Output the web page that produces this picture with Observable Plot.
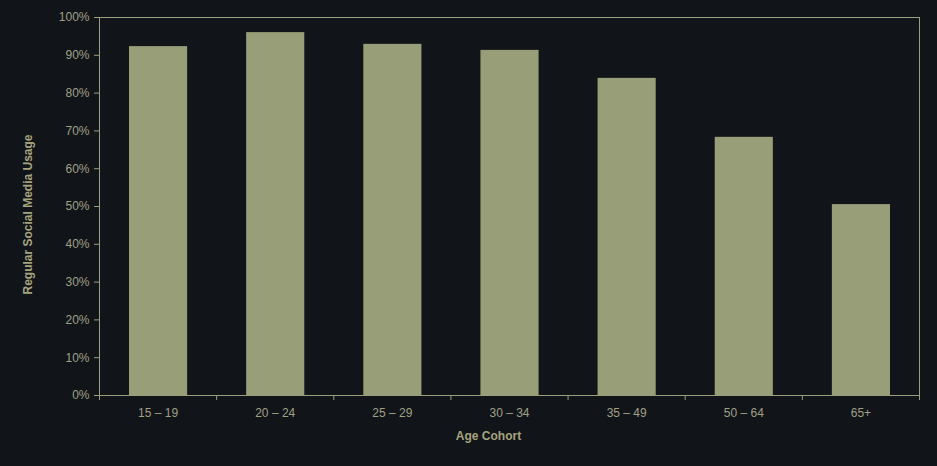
<!DOCTYPE html>
<html>
<head>
<meta charset="utf-8">
<script src="https://cdn.jsdelivr.net/npm/d3@7"></script>
<script src="https://cdn.jsdelivr.net/npm/@observablehq/plot@0.6"></script>
<style>
  html, body { margin: 0; padding: 0; background: #111418; }
  #chart svg { display: block; }
</style>
</head>
<body>
<div id="chart"></div>
<script>
const categories = ["15 – 19", "20 – 24", "25 – 29", "30 – 34", "35 – 49", "50 – 64", "65+"];
const usage = [0.923, 0.960, 0.929, 0.913, 0.839, 0.683, 0.505];
const yTicks = [0, 0.1, 0.2, 0.3, 0.4, 0.5, 0.6, 0.7, 0.8, 0.9, 1.0];
const yLabel = "Regular Social Media Usage";
const xLabel = "Age Cohort";

const data = categories.map((c, i) => ({i, cohort: c, value: usage[i]}));
const lineColor = "#9a9e7a";
const barColor = "#989e77";
const tickText = "#a0a089";
const titleText = "#a6a47e";

const chart = Plot.plot({
  width: 937,
  height: 466,
  marginLeft: 99,
  marginRight: 18,
  marginTop: 17,
  marginBottom: 71,
  style: {background: "#111418", fontFamily: "Liberation Sans, Arial, sans-serif", fontSize: "12px"},
  x: {type: "linear", domain: [0, categories.length], axis: null},
  y: {domain: [0, 1], axis: null},
  marks: [
    Plot.rectY(data, {x: "i", interval: 1, y: "value", fill: barColor, insetLeft: 30, insetRight: 29}),
    Plot.frame({stroke: lineColor, strokeWidth: 1}),
    Plot.axisY(yTicks, {tickSize: 5, tickPadding: 5, tickFormat: d3.format(".0%"), stroke: lineColor, color: tickText, label: null, fontSize: 12}),
    Plot.axisX(d3.range(categories.length + 1), {tickSize: 5, tickFormat: () => "", stroke: lineColor, label: null}),
    Plot.axisX(data.map(d => d.i + 0.5), {tickSize: 0, tickPadding: 12.5, tickFormat: d => categories[Math.floor(d)], color: tickText, label: null, fontSize: 12}),
    Plot.text([yLabel], {frameAnchor: "left", text: d => d, rotate: -90, textAnchor: "middle", dx: -71, dy: 8, fill: titleText, fontWeight: "bold", fontSize: 12}),
    Plot.text([xLabel], {frameAnchor: "bottom", text: d => d, dx: -21, dy: 44, fill: titleText, fontWeight: "bold", fontSize: 12})
  ]
});
document.getElementById("chart").appendChild(chart);
</script>
</body>
</html>
